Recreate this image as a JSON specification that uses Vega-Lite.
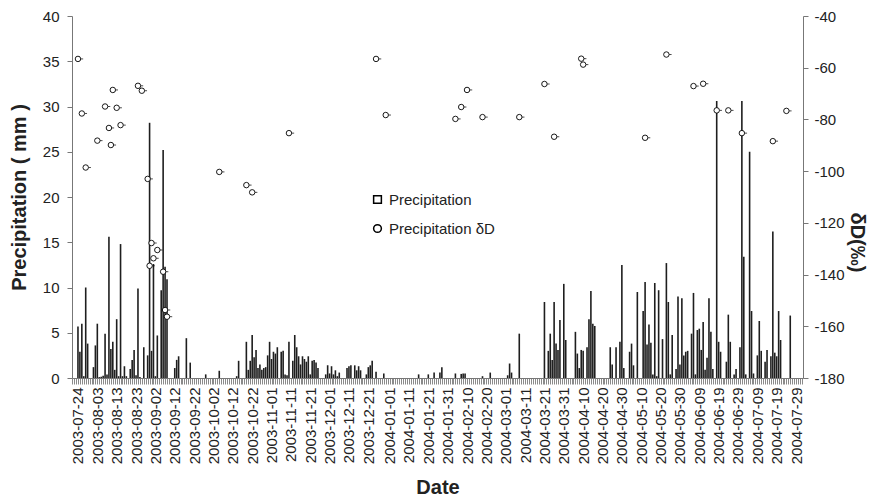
{
  "$schema": "https://vega.github.io/schema/vega-lite/v6.json",
  "width": 731,
  "height": 362,
  "autosize": {"type": "none"},
  "padding": {"left": 72, "top": 16, "right": 74, "bottom": 125},
  "config": {"font": "Liberation Sans", "view": {"stroke": null}},
  "datasets": {
    "rain": [
      {"date": "2003-07-24", "precip": 5.7}, {"date": "2003-07-25", "precip": 2.9}, {"date": "2003-07-26", "precip": 6.0}, {"date": "2003-07-27", "precip": 0.2}, {"date": "2003-07-28", "precip": 10.0}, {"date": "2003-07-29", "precip": 3.8},
      {"date": "2003-08-01", "precip": 1.2}, {"date": "2003-08-02", "precip": 3.6}, {"date": "2003-08-03", "precip": 6.0}, {"date": "2003-08-04", "precip": 0.1}, {"date": "2003-08-05", "precip": 0.15}, {"date": "2003-08-06", "precip": 0.25}, {"date": "2003-08-07", "precip": 4.9}, {"date": "2003-08-08", "precip": 0.4}, {"date": "2003-08-09", "precip": 15.6}, {"date": "2003-08-10", "precip": 3.2}, {"date": "2003-08-11", "precip": 4.0}, {"date": "2003-08-12", "precip": 0.9}, {"date": "2003-08-13", "precip": 6.5}, {"date": "2003-08-14", "precip": 0.2}, {"date": "2003-08-15", "precip": 14.8}, {"date": "2003-08-16", "precip": 0.2}, {"date": "2003-08-17", "precip": 1.3}, {"date": "2003-08-18", "precip": 0.2}, {"date": "2003-08-20", "precip": 1.0}, {"date": "2003-08-21", "precip": 2.0}, {"date": "2003-08-22", "precip": 3.1}, {"date": "2003-08-23", "precip": 0.3}, {"date": "2003-08-24", "precip": 9.9}, {"date": "2003-08-25", "precip": 0.1}, {"date": "2003-08-27", "precip": 3.4}, {"date": "2003-08-29", "precip": 2.5}, {"date": "2003-08-30", "precip": 28.2}, {"date": "2003-08-31", "precip": 3.0},
      {"date": "2003-09-01", "precip": 12.6}, {"date": "2003-09-02", "precip": 0.2}, {"date": "2003-09-03", "precip": 4.7}, {"date": "2003-09-05", "precip": 9.7}, {"date": "2003-09-06", "precip": 25.2}, {"date": "2003-09-07", "precip": 12.3}, {"date": "2003-09-08", "precip": 10.9}, {"date": "2003-09-12", "precip": 1.1}, {"date": "2003-09-13", "precip": 2.0}, {"date": "2003-09-14", "precip": 2.4}, {"date": "2003-09-18", "precip": 4.4}, {"date": "2003-09-20", "precip": 1.7}, {"date": "2003-09-28", "precip": 0.4},
      {"date": "2003-10-05", "precip": 0.8}, {"date": "2003-10-14", "precip": 0.2}, {"date": "2003-10-15", "precip": 1.9}, {"date": "2003-10-19", "precip": 4.0}, {"date": "2003-10-20", "precip": 0.9}, {"date": "2003-10-21", "precip": 1.9}, {"date": "2003-10-22", "precip": 4.75}, {"date": "2003-10-23", "precip": 2.3}, {"date": "2003-10-24", "precip": 3.1}, {"date": "2003-10-25", "precip": 1.1}, {"date": "2003-10-26", "precip": 1.5}, {"date": "2003-10-27", "precip": 0.9}, {"date": "2003-10-28", "precip": 1.1}, {"date": "2003-10-29", "precip": 1.2}, {"date": "2003-10-30", "precip": 2.5}, {"date": "2003-10-31", "precip": 4.0},
      {"date": "2003-11-01", "precip": 2.1}, {"date": "2003-11-02", "precip": 2.9}, {"date": "2003-11-03", "precip": 2.7}, {"date": "2003-11-04", "precip": 3.4}, {"date": "2003-11-06", "precip": 2.9}, {"date": "2003-11-07", "precip": 3.0}, {"date": "2003-11-08", "precip": 0.4}, {"date": "2003-11-09", "precip": 0.3}, {"date": "2003-11-10", "precip": 4.0}, {"date": "2003-11-12", "precip": 1.9}, {"date": "2003-11-13", "precip": 4.75}, {"date": "2003-11-14", "precip": 3.4}, {"date": "2003-11-15", "precip": 2.4}, {"date": "2003-11-16", "precip": 1.5}, {"date": "2003-11-17", "precip": 2.4}, {"date": "2003-11-18", "precip": 2.1}, {"date": "2003-11-19", "precip": 1.8}, {"date": "2003-11-20", "precip": 2.4}, {"date": "2003-11-21", "precip": 0.4}, {"date": "2003-11-22", "precip": 1.9}, {"date": "2003-11-23", "precip": 2.0}, {"date": "2003-11-24", "precip": 1.7}, {"date": "2003-11-25", "precip": 1.1}, {"date": "2003-11-29", "precip": 0.4}, {"date": "2003-11-30", "precip": 1.4},
      {"date": "2003-12-01", "precip": 0.5}, {"date": "2003-12-02", "precip": 1.3}, {"date": "2003-12-03", "precip": 0.4}, {"date": "2003-12-04", "precip": 0.85}, {"date": "2003-12-05", "precip": 0.2}, {"date": "2003-12-06", "precip": 0.6}, {"date": "2003-12-10", "precip": 1.1}, {"date": "2003-12-11", "precip": 1.3}, {"date": "2003-12-12", "precip": 1.4}, {"date": "2003-12-14", "precip": 1.4}, {"date": "2003-12-15", "precip": 0.85}, {"date": "2003-12-16", "precip": 1.3}, {"date": "2003-12-17", "precip": 0.85}, {"date": "2003-12-20", "precip": 0.4}, {"date": "2003-12-21", "precip": 1.2}, {"date": "2003-12-22", "precip": 1.4}, {"date": "2003-12-23", "precip": 1.9}, {"date": "2003-12-25", "precip": 0.7}, {"date": "2003-12-29", "precip": 0.5},
      {"date": "2004-01-16", "precip": 0.4}, {"date": "2004-01-21", "precip": 0.4}, {"date": "2004-01-24", "precip": 0.6}, {"date": "2004-01-27", "precip": 0.6}, {"date": "2004-01-28", "precip": 1.2},
      {"date": "2004-02-04", "precip": 0.5}, {"date": "2004-02-07", "precip": 0.45}, {"date": "2004-02-08", "precip": 0.5}, {"date": "2004-02-09", "precip": 0.5}, {"date": "2004-02-18", "precip": 0.2}, {"date": "2004-02-22", "precip": 0.6},
      {"date": "2004-03-02", "precip": 0.3}, {"date": "2004-03-03", "precip": 1.6}, {"date": "2004-03-04", "precip": 0.6}, {"date": "2004-03-08", "precip": 4.9}, {"date": "2004-03-21", "precip": 8.4}, {"date": "2004-03-23", "precip": 3.0}, {"date": "2004-03-24", "precip": 4.9}, {"date": "2004-03-25", "precip": 2.0}, {"date": "2004-03-26", "precip": 8.4}, {"date": "2004-03-27", "precip": 3.8}, {"date": "2004-03-28", "precip": 3.1}, {"date": "2004-03-29", "precip": 6.4}, {"date": "2004-03-31", "precip": 10.4},
      {"date": "2004-04-01", "precip": 4.2}, {"date": "2004-04-06", "precip": 5.1}, {"date": "2004-04-07", "precip": 2.7}, {"date": "2004-04-08", "precip": 1.1}, {"date": "2004-04-09", "precip": 3.1}, {"date": "2004-04-10", "precip": 3.0}, {"date": "2004-04-12", "precip": 3.4}, {"date": "2004-04-13", "precip": 6.5}, {"date": "2004-04-14", "precip": 9.6}, {"date": "2004-04-15", "precip": 6.0}, {"date": "2004-04-16", "precip": 5.75}, {"date": "2004-04-24", "precip": 3.4}, {"date": "2004-04-25", "precip": 1.5}, {"date": "2004-04-27", "precip": 3.4}, {"date": "2004-04-29", "precip": 4.0}, {"date": "2004-04-30", "precip": 12.5},
      {"date": "2004-05-01", "precip": 1.1}, {"date": "2004-05-04", "precip": 2.9}, {"date": "2004-05-05", "precip": 3.8}, {"date": "2004-05-06", "precip": 1.4}, {"date": "2004-05-08", "precip": 9.5}, {"date": "2004-05-11", "precip": 7.4}, {"date": "2004-05-12", "precip": 10.6}, {"date": "2004-05-13", "precip": 3.7}, {"date": "2004-05-14", "precip": 5.9}, {"date": "2004-05-15", "precip": 3.9}, {"date": "2004-05-16", "precip": 0.4}, {"date": "2004-05-17", "precip": 10.5}, {"date": "2004-05-18", "precip": 0.2}, {"date": "2004-05-19", "precip": 9.7}, {"date": "2004-05-21", "precip": 4.3}, {"date": "2004-05-23", "precip": 12.7}, {"date": "2004-05-24", "precip": 8.4}, {"date": "2004-05-25", "precip": 0.4}, {"date": "2004-05-26", "precip": 4.75}, {"date": "2004-05-28", "precip": 1.0}, {"date": "2004-05-29", "precip": 9.0}, {"date": "2004-05-30", "precip": 1.5}, {"date": "2004-05-31", "precip": 8.8},
      {"date": "2004-06-01", "precip": 2.5}, {"date": "2004-06-02", "precip": 2.9}, {"date": "2004-06-03", "precip": 3.0}, {"date": "2004-06-05", "precip": 4.9}, {"date": "2004-06-06", "precip": 9.4}, {"date": "2004-06-07", "precip": 0.4}, {"date": "2004-06-08", "precip": 5.3}, {"date": "2004-06-09", "precip": 5.45}, {"date": "2004-06-10", "precip": 3.1}, {"date": "2004-06-11", "precip": 6.2}, {"date": "2004-06-12", "precip": 0.9}, {"date": "2004-06-13", "precip": 2.25}, {"date": "2004-06-14", "precip": 8.8}, {"date": "2004-06-15", "precip": 5.1}, {"date": "2004-06-16", "precip": 1.0}, {"date": "2004-06-18", "precip": 30.6}, {"date": "2004-06-19", "precip": 4.0}, {"date": "2004-06-20", "precip": 2.9}, {"date": "2004-06-23", "precip": 1.8}, {"date": "2004-06-24", "precip": 7.0}, {"date": "2004-06-25", "precip": 4.0}, {"date": "2004-06-27", "precip": 0.4}, {"date": "2004-06-28", "precip": 1.0}, {"date": "2004-06-30", "precip": 3.4},
      {"date": "2004-07-01", "precip": 30.6}, {"date": "2004-07-02", "precip": 13.4}, {"date": "2004-07-03", "precip": 0.4}, {"date": "2004-07-05", "precip": 25.0}, {"date": "2004-07-06", "precip": 7.4}, {"date": "2004-07-07", "precip": 0.5}, {"date": "2004-07-09", "precip": 2.5}, {"date": "2004-07-10", "precip": 6.3}, {"date": "2004-07-11", "precip": 3.0}, {"date": "2004-07-13", "precip": 1.8}, {"date": "2004-07-14", "precip": 3.1}, {"date": "2004-07-16", "precip": 2.4}, {"date": "2004-07-17", "precip": 16.2}, {"date": "2004-07-18", "precip": 2.8}, {"date": "2004-07-19", "precip": 2.4}, {"date": "2004-07-20", "precip": 7.4}, {"date": "2004-07-21", "precip": 4.2}, {"date": "2004-07-26", "precip": 6.9}
    ],
    "dD": [
      {"date": "2003-07-24", "dD": -56.6}, {"date": "2003-07-26", "dD": -77.7}, {"date": "2003-07-28", "dD": -98.6}, {"date": "2003-08-03", "dD": -88.2}, {"date": "2003-08-07", "dD": -75.0}, {"date": "2003-08-09", "dD": -83.3}, {"date": "2003-08-10", "dD": -89.9}, {"date": "2003-08-11", "dD": -68.6}, {"date": "2003-08-13", "dD": -75.5}, {"date": "2003-08-15", "dD": -82.2}, {"date": "2003-08-24", "dD": -67.0}, {"date": "2003-08-26", "dD": -68.9}, {"date": "2003-08-29", "dD": -103.0}, {"date": "2003-08-30", "dD": -136.6}, {"date": "2003-08-31", "dD": -127.8}, {"date": "2003-09-01", "dD": -133.7}, {"date": "2003-09-03", "dD": -130.5}, {"date": "2003-09-06", "dD": -138.9}, {"date": "2003-09-07", "dD": -153.7}, {"date": "2003-09-08", "dD": -156.3},
      {"date": "2003-10-05", "dD": -100.3}, {"date": "2003-10-19", "dD": -105.4}, {"date": "2003-10-22", "dD": -108.2}, {"date": "2003-11-10", "dD": -85.3}, {"date": "2003-12-25", "dD": -56.6}, {"date": "2003-12-30", "dD": -78.3},
      {"date": "2004-02-04", "dD": -79.8}, {"date": "2004-02-07", "dD": -75.2}, {"date": "2004-02-10", "dD": -68.6}, {"date": "2004-02-18", "dD": -79.1}, {"date": "2004-03-08", "dD": -79.1}, {"date": "2004-03-21", "dD": -66.3}, {"date": "2004-03-26", "dD": -86.7}, {"date": "2004-04-09", "dD": -56.5}, {"date": "2004-04-10", "dD": -58.8}, {"date": "2004-05-12", "dD": -87.1}, {"date": "2004-05-23", "dD": -54.9}, {"date": "2004-06-06", "dD": -67.1}, {"date": "2004-06-11", "dD": -66.2}, {"date": "2004-06-18", "dD": -76.5}, {"date": "2004-06-24", "dD": -76.5}, {"date": "2004-07-01", "dD": -85.3}, {"date": "2004-07-17", "dD": -88.4}, {"date": "2004-07-24", "dD": -76.7}
    ]
  },
  "layer": [
    {
      "data": {"name": "rain"},
      "mark": {"type": "bar", "width": 1.6, "color": "#1e1e1e"},
      "encoding": {
        "x": {
          "field": "date", "type": "temporal",
          "scale": {"type": "utc", "domain": [{"year": 2003, "month": 7, "date": 23, "hours": 12, "utc": true}, {"year": 2004, "month": 7, "date": 30, "utc": true}]},
          "axis": {
            "title": "Date", "titleFontSize": 20, "titleFontWeight": "bold", "titleColor": "#222", "titlePadding": 14,
            "format": "%Y-%m-%d", "labelAngle": -90, "labelFontSize": 15, "labelColor": "#222", "labelPadding": 3,
            "tickCount": {"interval": "day", "step": 1}, "labelOverlap": false, "labelFlush": false, "labelBound": false,
            "labelExpr": "(round((datum.value - utc(2003,6,24))/864e5) < 160 ? round((datum.value - utc(2003,6,24))/864e5) % 10 == 0 : round((datum.value - utc(2003,6,24))/864e5) % 10 == 1) ? datum.label : ''",
            "tickSize": 6, "tickColor": "#8a8a8a", "tickWidth": 1, "domainColor": "#777", "grid": false
          }
        },
        "y": {
          "field": "precip", "type": "quantitative",
          "scale": {"domain": [0, 40]},
          "axis": {
            "title": "Precipitation ( mm )", "titleFontSize": 20, "titleFontWeight": "bold", "titleColor": "#222", "titlePadding": 13,
            "values": [0, 5, 10, 15, 20, 25, 30, 35, 40], "labelFontSize": 15, "labelColor": "#222", "labelPadding": 8,
            "tickSize": 5, "tickColor": "#777", "domainColor": "#777", "grid": false
          }
        }
      }
    },
    {
      "data": {"name": "dD"},
      "encoding": {
        "x": {"field": "date", "type": "temporal"},
        "y": {
          "field": "dD", "type": "quantitative",
          "scale": {"domain": [-180, -40]},
          "axis": {
            "orient": "right", "title": "δD(‰)", "titleFontSize": 20, "titleFontWeight": "bold", "titleColor": "#222", "titlePadding": 2, "titleY": 226,
            "values": [-180, -160, -140, -120, -100, -80, -60, -40], "labelExpr": "'' + datum.value", "labelFontSize": 15, "labelColor": "#222", "labelPadding": 6,
            "tickSize": 5, "tickColor": "#777", "domainColor": "#777", "grid": false
          }
        }
      },
      "layer": [
        {"mark": {"type": "point", "shape": "M1,0L1.9,0", "size": 30, "filled": false, "stroke": "black", "strokeWidth": 1}},
        {
          "mark": {"type": "point", "filled": true, "fill": "white", "stroke": "black", "strokeWidth": 0.9, "size": 30, "opacity": 1},
          "encoding": {
            "shape": {"datum": "Precipitation δD", "type": "nominal", "scale": {"domain": ["Precipitation", "Precipitation δD"], "range": ["square", "circle"]},
              "legend": {"orient": "none", "legendX": 298, "legendY": 176, "title": null, "labelFont": "Liberation Sans", "labelFontSize": 15, "labelColor": "#222", "rowPadding": 13, "symbolSize": 60, "labelOffset": 4,
                "encode": {"symbols": {"update": {"fill": {"value": "white"}, "stroke": {"value": "black"}, "strokeWidth": {"value": 1}, "opacity": {"value": 1}, "size": {"signal": "datum.value === 'Precipitation' ? 90 : 25"}}}}}}
          }
        }
      ]
    }
  ],
  "resolve": {"scale": {"y": "independent"}}
}
